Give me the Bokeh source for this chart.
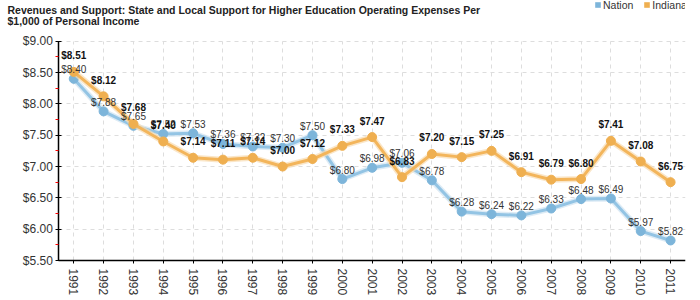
from bokeh.plotting import figure
from bokeh.models import (ColumnDataSource, FixedTicker, Legend, LegendItem, Label,
                          NumeralTickFormatter, Range1d)
from bokeh.embed import file_html
from bokeh.resources import INLINE
from bokeh.core.properties import value

years = list(range(1991, 2012))
nation = [8.40, 7.88, 7.65, 7.52, 7.53, 7.36, 7.32, 7.30, 7.50, 6.80, 6.98,
          7.06, 6.78, 6.28, 6.24, 6.22, 6.33, 6.48, 6.49, 5.97, 5.82]
indiana = [8.51, 8.12, 7.68, 7.40, 7.14, 7.11, 7.14, 7.00, 7.12, 7.33, 7.47,
           6.83, 7.20, 7.15, 7.25, 6.91, 6.79, 6.80, 7.41, 7.08, 6.75]
y_ticks = [5.5, 6.0, 6.5, 7.0, 7.5, 8.0, 8.5, 9.0]
y_minor = [5.75, 6.25, 6.75, 7.25, 7.75, 8.25, 8.75]
title_lines = ["Revenues and Support: State and Local Support for Higher Education Operating Expenses Per",
               "$1,000 of Personal Income"]
series_names = ["Nation", "Indiana"]

FONT = "Liberation Sans"

X_LO, X_HI = 1990.5, 2011.5
Y_LO, Y_HI = 5.5, 9.0

src = ColumnDataSource(dict(
    x=years, nation=nation, indiana=indiana,
    nlab=["$%.2f" % v for v in nation],
    ilab=["$%.2f" % v for v in indiana],
))

# The frame covers the whole canvas (title/legend/tick-label areas included);
# the axes are pinned and bounded to the data area.
p = figure(width=700, height=300, output_backend="svg", toolbar_location=None,
           x_range=Range1d(1988.545, X_HI), y_range=Range1d(4.8616, 9.65),
           min_border_left=0, min_border_right=15, min_border_top=0, min_border_bottom=0)
p.outline_line_color = None
p.background_fill_color = "white"
p.border_fill_color = "white"

# axes
p.xaxis.fixed_location = Y_LO
p.xaxis.bounds = (X_LO, X_HI)
p.xaxis.ticker = FixedTicker(ticks=years)
p.xaxis.major_label_orientation = "vertical"
p.xaxis.major_label_text_font = FONT
p.xaxis.major_label_text_font_size = "12px"
p.xaxis.major_label_text_color = "#333333"
p.xaxis.axis_line_color = "black"
p.xaxis.axis_line_width = 1.5
p.xaxis.major_tick_line_color = "black"
p.xaxis.major_tick_in = 0
p.xaxis.major_tick_out = 3
p.xaxis.minor_tick_line_color = None
p.xaxis.major_label_standoff = 5

p.yaxis.fixed_location = X_LO
p.yaxis.bounds = (Y_LO, Y_HI)
p.yaxis.ticker = FixedTicker(ticks=y_ticks, minor_ticks=y_minor)
p.yaxis.formatter = NumeralTickFormatter(format="$0.00")
p.yaxis.major_label_text_font = FONT
p.yaxis.major_label_text_font_size = "12px"
p.yaxis.major_label_text_color = "#333333"
p.yaxis.axis_line_color = "black"
p.yaxis.axis_line_width = 1.5
p.yaxis.major_tick_line_color = "black"
p.yaxis.major_tick_in = 3
p.yaxis.major_tick_out = 3
p.yaxis.minor_tick_line_color = "red"
p.yaxis.minor_tick_in = 0
p.yaxis.minor_tick_out = 3
p.yaxis.major_label_standoff = 3

for g in (p.xgrid, p.ygrid):
    g.grid_line_color = "#dddddd"
    g.grid_line_dash = "4 4"
    g.grid_line_width = 1
p.xgrid.ticker = FixedTicker(ticks=years)
p.xgrid.cross_bounds = (Y_LO, Y_HI)
p.ygrid.ticker = FixedTicker(ticks=y_ticks)
p.ygrid.cross_bounds = (X_LO, X_HI)

# series
p.line("x", "nation", source=src, line_color="#cfe3f1", line_width=6, line_alpha=0.7)
p.line("x", "nation", source=src, line_color="#93c4e4", line_width=3)
p.scatter("x", "nation", source=src, size=9, fill_color="#7db5da", line_color="#7db5da")

p.line("x", "indiana", source=src, line_color="#f8dcb0", line_width=6, line_alpha=0.7)
p.line("x", "indiana", source=src, line_color="#f3b55b", line_width=3)
p.scatter("x", "indiana", source=src, size=9, fill_color="#efaf50", line_color="#efaf50")

# data labels
p.text("x", "nation", text="nlab", source=src, text_align="center", text_baseline="middle",
       y_offset=-9, text_font=value(FONT), text_font_size="10px", text_color="#333333")
p.text("x", "indiana", text="ilab", source=src, text_align="center", text_baseline="middle",
       y_offset=-16, text_font=value(FONT), text_font_size="10px", text_font_style="bold",
       text_color="#111111")

# title (screen units, relative to the frame's bottom-left corner)
for ty, line in zip([290.5, 279.5], title_lines):
    p.add_layout(Label(x=7, y=ty, x_units="screen", y_units="screen", text=line,
                       text_font=FONT, text_font_size="10.5px", text_font_style="bold",
                       text_color="#222222", text_baseline="middle"))

# legend swatches: zero-area quads at the data points (invisible in the plot),
# whose fill gives the small square legend markers
rn = p.quad(left="x", right="x", bottom="nation", top="nation", source=src,
            fill_color="#7db5da", line_color=None)
ri = p.quad(left="x", right="x", bottom="indiana", top="indiana", source=src,
            fill_color="#efaf50", line_color=None)
legend = Legend(items=[LegendItem(label=series_names[0], renderers=[rn]),
                       LegendItem(label=series_names[1], renderers=[ri])],
                location=(594, 289.5), orientation="horizontal",
                glyph_width=7, glyph_height=7, label_height=7, label_standoff=2,
                spacing=10, padding=0, margin=0,
                label_text_font=FONT, label_text_font_size="10.5px", label_text_color="#333333",
                border_line_color=None, background_fill_alpha=0)
p.add_layout(legend)

open("out.html", "w").write(file_html(p, INLINE))
